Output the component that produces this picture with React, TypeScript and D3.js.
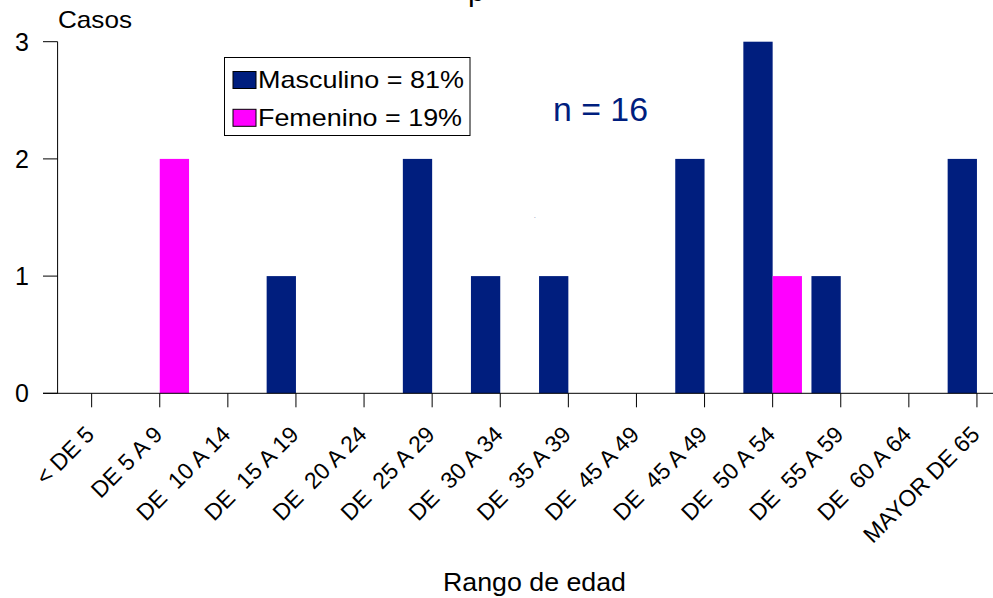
import React from "react";
import * as d3 from "d3";

const categories = [
  "< DE 5",
  "DE 5 A 9",
  "DE  10 A 14",
  "DE  15 A 19",
  "DE  20 A 24",
  "DE  25 A 29",
  "DE  30 A 34",
  "DE  35 A 39",
  "DE  45 A 49",
  "DE  45 A 49 ",
  "DE  50 A 54",
  "DE  55 A 59",
  "DE  60 A 64",
  "MAYOR DE 65",
];
const masculino = [0, 0, 0, 1, 0, 2, 1, 1, 0, 2, 3, 1, 0, 2];
const femenino = [0, 2, 0, 0, 0, 0, 0, 0, 0, 0, 1, 0, 0, 0];
const seriesNames = ["Masculino = 81%", "Femenino = 19%"];
const yTicks = [0, 1, 2, 3];

const W = 993;
const H = 598;
const NAVY = "#001E7E";
const PINK = "#FF00FF";
const FONT = "'Liberation Sans', Arial, sans-serif";

export default function App() {
  const left = 57.6;
  const step = 68.1;
  const x0 = d3
    .scaleBand<string>()
    .domain(categories)
    .range([left, left + step * categories.length])
    .paddingInner(0)
    .paddingOuter(0);
  const x1 = d3
    .scaleBand<string>()
    .domain(["M", "F"])
    .range([0, x0.bandwidth()])
    .paddingInner(0)
    .paddingOuter(0.162);
  const y = d3.scaleLinear().domain([0, 3]).range([393.3, 41.7]);

  const data = categories.map((c, i) => ({ c, m: masculino[i], f: femenino[i] }));

  return (
    <svg
      width={W}
      height={H}
      style={{ position: "absolute", left: 0, top: 0, background: "#fff" }}
      fontFamily={FONT}
    >
      <rect x={0} y={0} width={W} height={H} fill="#fff" />
      {/* cut-off title */}
      <text x={468} y={1} fontSize={30} fill="#000">p</text>

      {/* bars */}
      {data.map((d) => (
        <g key={d.c}>
          {d.m > 0 && (
            <rect
              x={(x0(d.c) as number) + (x1("M") as number)}
              y={y(d.m)}
              width={x1.bandwidth()}
              height={y(0) - y(d.m)}
              fill={NAVY}
            />
          )}
          {d.f > 0 && (
            <rect
              x={(x0(d.c) as number) + (x1("F") as number)}
              y={y(d.f)}
              width={x1.bandwidth()}
              height={y(0) - y(d.f)}
              fill={PINK}
            />
          )}
        </g>
      ))}

      {/* y axis */}
      <line x1={left} x2={left} y1={y(3)} y2={y(0)} stroke="#000" strokeWidth={1} />
      {yTicks.map((t) => (
        <g key={t}>
          <line x1={43} x2={left} y1={y(t)} y2={y(t)} stroke="#000" strokeWidth={1} />
          <text x={29} y={y(t)} dy="0.36em" textAnchor="end" fontSize={25} fill="#000">
            {t}
          </text>
        </g>
      ))}
      <text x={58} y={28} fontSize={24} fill="#000" textLength={74} lengthAdjust="spacingAndGlyphs">
        Casos
      </text>

      {/* x axis */}
      <line x1={43} x2={W} y1={y(0)} y2={y(0)} stroke="#000" strokeWidth={1} />
      {categories.map((c) => {
        const cx = (x0(c) as number) + x0.bandwidth() / 2;
        return (
          <g key={c}>
            <line x1={cx} x2={cx} y1={y(0)} y2={y(0) + 14} stroke="#000" strokeWidth={1} />
            <text
              transform={`translate(${cx + 4},436) rotate(-45)`}
              textAnchor="end"
              fontSize={23}
              fill="#000"
              style={{ whiteSpace: "pre" }}
            >
              {c.trimEnd()}
            </text>
          </g>
        );
      })}
      <text
        x={443}
        y={591}
        fontSize={26}
        fill="#000"
        textLength={183}
        lengthAdjust="spacingAndGlyphs"
      >
        Rango de edad
      </text>

      {/* legend */}
      <rect x={224.5} y={57.5} width={245.5} height={78} fill="#fff" stroke="#000" strokeWidth={1} />
      {seriesNames.map((s, i) => (
        <g key={s}>
          <rect
            x={233}
            y={71.5 + i * 37.8}
            width={23}
            height={17}
            fill={i === 0 ? NAVY : PINK}
            stroke="#000"
            strokeWidth={1}
          />
          <text
            x={258}
            y={88.3 + i * 37.8}
            fontSize={24}
            fill="#000"
            textLength={i === 0 ? 206 : 204}
            lengthAdjust="spacingAndGlyphs"
          >
            {s}
          </text>
        </g>
      ))}

      <text
        x={553}
        y={120.5}
        fontSize={33}
        fill={NAVY}
        textLength={95}
        lengthAdjust="spacingAndGlyphs"
      >
        n = 16
      </text>
      <text x={534} y={218} fontSize={6} fill={NAVY}>.</text>
    </svg>
  );
}
